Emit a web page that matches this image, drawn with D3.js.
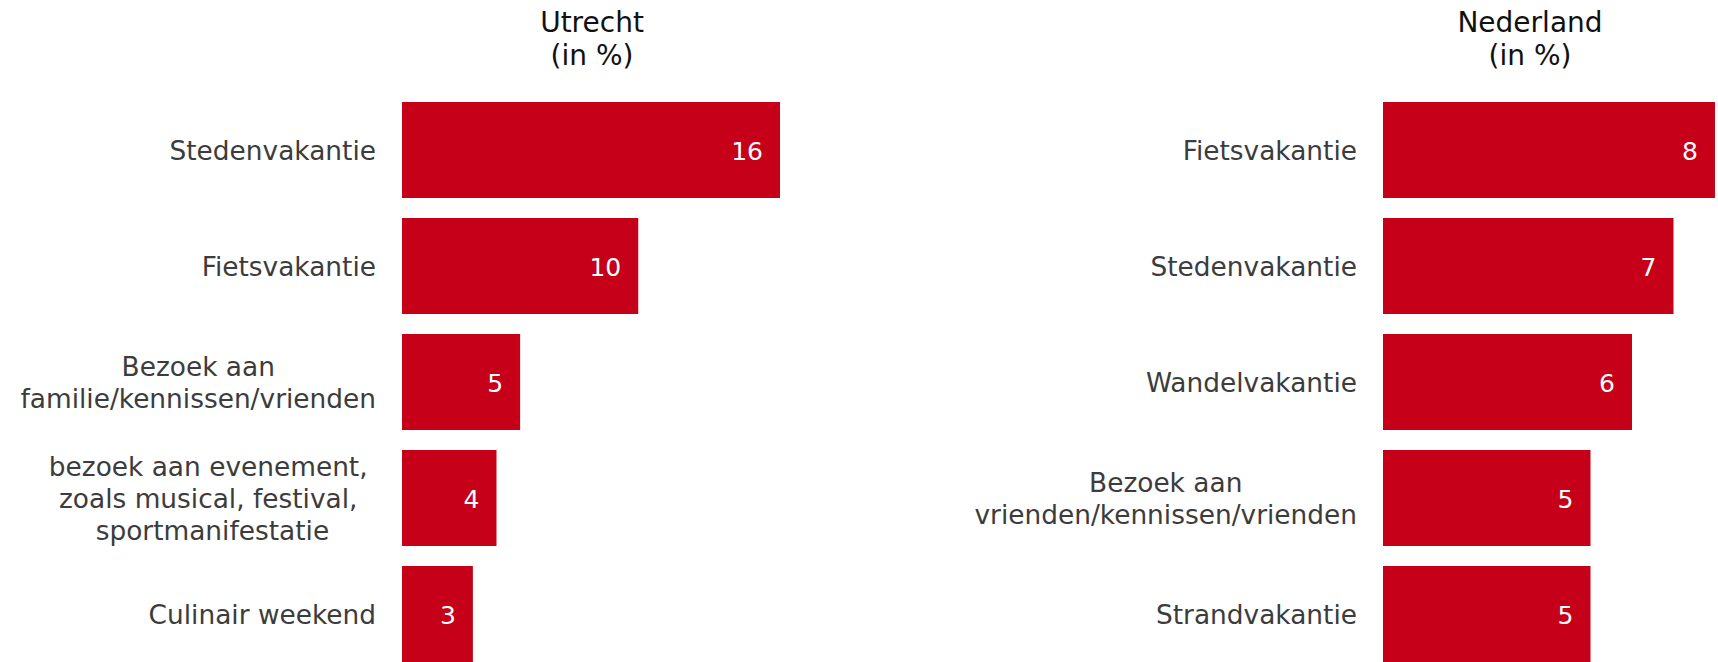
<!DOCTYPE html>
<html lang="nl">
<head>
<meta charset="utf-8">
<title></title>
<style>
body {
  margin: 0;
  background: #fff;
  font-family: "DejaVu Sans", Verdana, sans-serif;
}
svg { display: block; }
</style>
</head>
<body>
<div id="app"></div>
<script src="https://d3js.org/d3.v7.min.js"></script>
<script>
// categorieen (regels van het label als losse items)
const utrechtCategories = [
  ["Stedenvakantie"],
  ["Fietsvakantie"],
  ["Bezoek aan", "familie/kennissen/vrienden"],
  ["bezoek aan evenement, ", "zoals musical, festival, ", "sportmanifestatie"],
  ["Culinair weekend"]
]
const utrechtValues = [16, 10, 5, 4, 3]

const nederlandCategories = [
  ["Fietsvakantie"],
  ["Stedenvakantie"],
  ["Wandelvakantie"],
  ["Bezoek aan", "vrienden/kennissen/vrienden"],
  ["Strandvakantie"]
]
const nederlandValues = [8, 7, 6, 5, 5]

const panelTitles = [["Utrecht", "(in %)"], ["Nederland", "(in %)"]]

const width = 1718,
      height = 662,
      barColor = "#c50018"

// plaats van elk paneel
const panels = [
  {title: panelTitles[0], cats: utrechtCategories, values: utrechtValues, left: 402, right: 780, titleX: 592},
  {title: panelTitles[1], cats: nederlandCategories, values: nederlandValues, left: 1383, right: 1715, titleX: 1530}
]

const svg = d3.select("#app").append("svg")
    .attr("width", width)
    .attr("height", height)
    .attr("viewBox", [0, 0, width, height])

panels.forEach(p => {
  const idx = d3.range(p.values.length)

  const x = d3.scaleLinear()
      .domain([0, d3.max(p.values)])
      .range([p.left, p.right])

  const y = d3.scaleBand()
      .domain(idx)
      .range([92, 672])
      .paddingInner(20 / 116)
      .paddingOuter(10 / 116)

  const g = svg.append("g")

  // titel
  g.append("text")
      .attr("x", p.titleX)
      .attr("y", 32)
      .attr("text-anchor", "middle")
      .attr("fill", "#111")
      .style("font-size", "28px")
    .selectAll("tspan")
    .data(p.title)
    .join("tspan")
      .attr("x", p.titleX)
      .attr("dy", (d, i) => i ? 33 : 0)
      .text(d => d)

  // balken
  g.selectAll("rect")
    .data(idx)
    .join("rect")
      .attr("x", x(0))
      .attr("y", i => y(i))
      .attr("width", i => x(p.values[i]) - x(0))
      .attr("height", y.bandwidth())
      .attr("fill", barColor)

  // waarden
  g.selectAll("text.value")
    .data(idx)
    .join("text")
      .attr("class", "value")
      .attr("x", i => x(p.values[i]) - 17)
      .attr("y", i => y(i) + y.bandwidth() / 2)
      .attr("dy", "0.38em")
      .attr("text-anchor", "end")
      .attr("fill", "#fff")
      .style("font-size", "25px")
      .text(i => p.values[i])

  // categorie labels, regels gecentreerd, blok rechts uitgelijnd
  const labelRight = x(0) - 26
  const lineH = 32
  idx.forEach(i => {
    const lines = p.cats[i]
    const cy = y(i) + y.bandwidth() / 2
    const t = g.append("text")
        .attr("class", "label")
        .attr("fill", "#3c3c3c")
        .attr("text-anchor", "middle")
        .style("font-size", "26.4px")
        .style("white-space", "pre")
    const spans = t.selectAll("tspan")
      .data(lines)
      .join("tspan")
        .attr("y", (d, j) => cy + (j - (lines.length - 1) / 2) * lineH)
        .attr("dy", "0.36em")
        .text(d => d)
    const maxW = d3.max(spans.nodes(), n => n.getComputedTextLength())
    spans.attr("x", labelRight - maxW / 2)
  })
})
</script>
</body>
</html>
